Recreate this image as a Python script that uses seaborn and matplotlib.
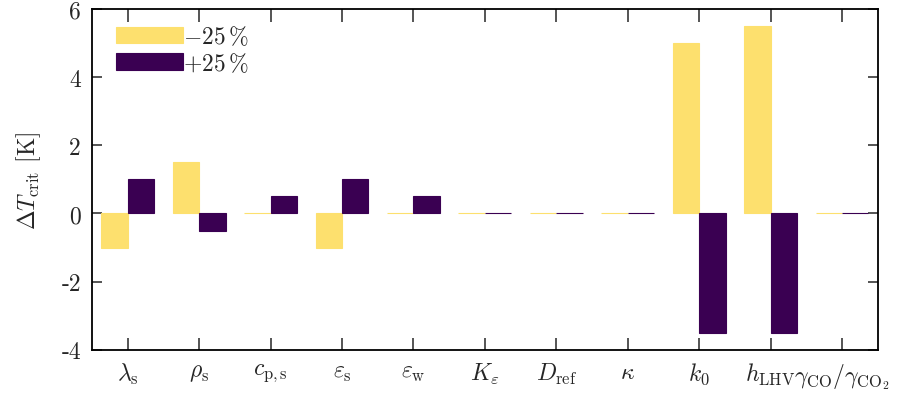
import matplotlib
matplotlib.use("Agg")
import matplotlib.pyplot as plt
import seaborn as sns
import pandas as pd

categories = [r"$\lambda_{\rm s}$", r"$\rho_{\rm s}$", r"$c_{\rm p,s}$", r"$\varepsilon_{\rm s}$",
              r"$\varepsilon_{\rm w}$", r"$K_{\varepsilon}$", r"$D_{\rm ref}$", r"$\kappa$",
              r"$k_0$", r"$h_{\rm LHV}$", r"$\gamma_{\rm CO}/\gamma_{\rm CO_2}$"]
minus25 = [-1.0, 1.5, 0.0, -1.0, 0.0, 0.0, 0.0, 0.0, 5.0, 5.5, 0.0]
plus25 = [1.0, -0.5, 0.5, 1.0, 0.5, 0.0, 0.0, 0.0, -3.5, -3.5, 0.0]
series_labels = [r"$-25\,\%$", r"$+25\,\%$"]
yticks = [-4, -2, 0, 2, 4, 6]

sns.set_theme(style="ticks")
plt.rcParams["font.family"] = ["cmr10", "DejaVu Serif"]
plt.rcParams["mathtext.fontset"] = "cm"
plt.rcParams["axes.unicode_minus"] = False
plt.rcParams["axes.formatter.use_mathtext"] = True

df = pd.DataFrame({
    "cat": categories * 2,
    "val": minus25 + plus25,
    "series": [series_labels[0]] * len(categories) + [series_labels[1]] * len(categories),
})

colors = ["#FDE06E", "#3A0052"]

fig = plt.figure(figsize=(9.2, 4.02), dpi=100)
ax = fig.add_axes([0.1, 0.1275, 0.854, 0.8475])

sns.barplot(data=df, x="cat", y="val", hue="series", palette=colors, ax=ax,
            width=0.74, saturation=1, errorbar=None, order=categories,
            hue_order=series_labels)

for p in ax.patches:
    fc = p.get_facecolor()
    p.set_edgecolor(fc)
    p.set_linewidth(0.8)

ax.set_xlim(-0.5, len(categories) - 0.5)
ax.set_ylim(-4, 6)
ax.set_yticks(yticks)
ax.set_yticklabels([str(t) for t in yticks])
ax.set_xlabel("")
ax.set_ylabel(r"$\Delta T_{\rm crit}$ [K]", fontsize=17, labelpad=13)

ax.tick_params(axis="x", direction="in", length=9, width=1.1, top=True, labelsize=17, pad=8)
ax.tick_params(axis="y", direction="in", length=7, width=1.1, right=True, labelsize=17, pad=8)
for s in ax.spines.values():
    s.set_visible(True)
    s.set_linewidth(1.3)
    s.set_color("black")

handles, labels = ax.get_legend_handles_labels()
ax.legend(handles, labels, loc="upper left", bbox_to_anchor=(0.03, 0.955), frameon=False,
          fontsize=17, handlelength=2.85, handleheight=0.7, handletextpad=0.0,
          labelspacing=0.12, borderpad=0, borderaxespad=0)

fig.savefig("out.png", dpi=100)
